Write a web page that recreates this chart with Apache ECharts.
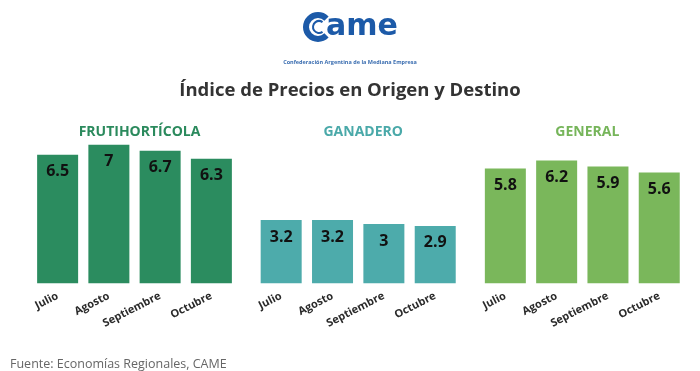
<!DOCTYPE html>
<html><head><meta charset="utf-8">
<script src="https://cdn.jsdelivr.net/npm/echarts@6/dist/echarts.min.js"></script>
<style>html,body{margin:0;padding:0;background:#fff}#c{width:700px;height:371px}</style>
</head><body><div id="c"></div>
<script>
const months = ['Julio','Agosto','Septiembre','Octubre'];
const panelTitles = ['FRUTIHORTÍCOLA','GANADERO','GENERAL'];
const frutihorticola = [6.5, 7, 6.7, 6.3];
const ganadero = [3.2, 3.2, 3, 2.9];
const general = [5.8, 6.2, 5.9, 5.6];
const mainTitle = 'Índice de Precios en Origen y Destino';
const sourceText = 'Fuente: Economías Regionales, CAME';

const seriesData = [frutihorticola, ganadero, general];
const colors = ['#2b8c5f', '#4dabab', '#7ab75b'];
const titleColors = ['#2b8a5d', '#4aa9a9', '#76b55a'];
const grids = [
  {left: 32, width: 205},
  {left: 255.5, width: 205.4},
  {left: 479.7, width: 205.2}
];
const FONT = '"Open Sans", sans-serif';

const chart = echarts.init(document.getElementById('c'));
const option = {
  backgroundColor: '#fff',
  animation: false,
  title: [
    {text: mainTitle, left: 'center', top: 76, textStyle: {fontFamily: FONT, fontSize: 18.5, fontWeight: 'bold', color: '#333'}},
    ...panelTitles.map((t, i) => ({
      text: t, left: grids[i].left + grids[i].width / 2, top: 120, textAlign: 'center',
      textStyle: {fontFamily: FONT, fontSize: 14, fontWeight: 'bold', color: titleColors[i]}
    }))
  ],
  grid: grids.map(g => ({left: g.left, width: g.width, top: 125, bottom: 87.7})),
  xAxis: grids.map((g, i) => ({
    type: 'category', gridIndex: i, data: months,
    axisLine: {show: false}, axisTick: {show: false},
    axisLabel: {rotate: 27, margin: 12, fontFamily: FONT, fontSize: 11, fontWeight: 'bold', color: '#2a2a2a', interval: 0}
  })),
  yAxis: grids.map((g, i) => ({
    type: 'value', gridIndex: i, min: 0, max: 8, show: false, splitLine: {show: false}
  })),
  series: seriesData.map((d, i) => ({
    type: 'bar', xAxisIndex: i, yAxisIndex: i, data: d, barWidth: 41,
    itemStyle: {color: colors[i]},
    label: {show: true, position: 'insideTop', distance: 9, fontFamily: FONT, fontSize: 16, fontWeight: 'bold', color: '#111'}
  })),
  graphic: [
    {type: 'arc', shape: {cx: 318, cy: 27, r: 12, startAngle: Math.PI * 0.25, endAngle: Math.PI * 1.75}, style: {stroke: '#1c5aa8', lineWidth: 6, fill: null}},
    {type: 'arc', shape: {cx: 319, cy: 27, r: 6, startAngle: Math.PI * 0.3, endAngle: Math.PI * 1.7}, style: {stroke: '#1c5aa8', lineWidth: 2, fill: null}},
    {type: 'text', left: 326, top: 12, style: {text: 'ame', font: 'bold 30px "DejaVu Sans", sans-serif', fill: '#1c5aa8'}},
    {type: 'text', left: 'center', top: 59, style: {text: 'Confederación Argentina de la Mediana Empresa', font: 'bold 5.5px "Open Sans", sans-serif', fill: '#3a6db0'}},
    {type: 'text', left: 10, top: 358, style: {text: sourceText, font: '12.5px "Open Sans", sans-serif', fill: '#666'}}
  ]
};
chart.setOption(option);
</script></body></html>
